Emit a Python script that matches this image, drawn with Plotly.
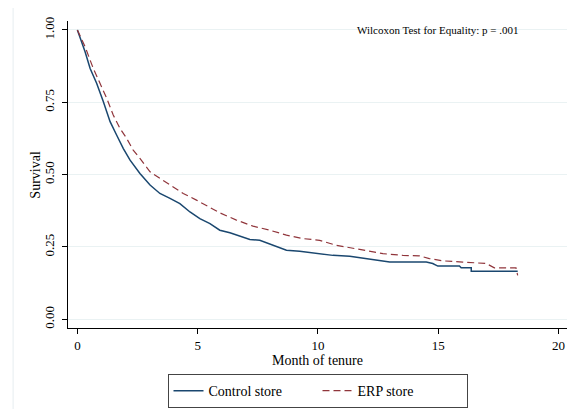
import plotly.graph_objects as go

# Kaplan-Meier survival estimates
ctrl_t = [0, 0.32, 0.53, 0.80, 1.08, 1.36, 1.63, 1.91, 2.19, 2.60, 3.02, 3.43, 3.85, 4.26,
          4.68, 5.09, 5.51, 5.92, 6.34, 6.75, 7.17, 7.58, 8.0, 8.41, 8.69, 9.24, 9.93,
          10.62, 11.32, 11.87, 12.14, 12.56, 12.98, 14.5, 14.77, 14.98, 15.88, 15.95,
          16.37, 16.37, 18.3]
ctrl_s = [1.0, 0.925, 0.867, 0.816, 0.752, 0.683, 0.637, 0.590, 0.550, 0.504, 0.464, 0.435,
          0.418, 0.400, 0.371, 0.348, 0.331, 0.308, 0.299, 0.287, 0.276, 0.273, 0.260,
          0.248, 0.239, 0.235, 0.227, 0.221, 0.218, 0.212, 0.208, 0.204, 0.198, 0.198,
          0.193, 0.184, 0.184, 0.178, 0.178, 0.166, 0.166]

erp_t = [0, 0.32, 0.66, 0.94, 1.22, 1.49, 1.77, 2.05, 2.32, 2.60, 3.02, 3.43, 3.85, 4.40,
         4.95, 5.44, 5.92, 6.61, 7.30, 8.0, 8.69, 9.38, 10.07, 10.76, 11.45, 12.15, 12.7,
         13.53, 14.22, 14.63, 15.19, 16.02, 16.85, 16.99, 17.33, 18.23, 18.3]
erp_s = [1.0, 0.942, 0.867, 0.816, 0.764, 0.706, 0.660, 0.625, 0.585, 0.556, 0.510, 0.487,
         0.464, 0.435, 0.412, 0.389, 0.368, 0.343, 0.322, 0.308, 0.291, 0.279, 0.273,
         0.256, 0.245, 0.235, 0.227, 0.221, 0.219, 0.210, 0.202, 0.198, 0.195, 0.193,
         0.178, 0.178, 0.152]

x_ticks = [0, 5, 10, 15, 20]
y_ticks = [0, 0.25, 0.5, 0.75, 1.0]
y_tick_labels = ["0.00", "0.25", "0.50", "0.75", "1.00"]

FONT = "Liberation Serif"
BLUE = "#1a476f"
RED = "#90353b"
GRID = "#eaf2f3"

fig = go.Figure()
fig.add_trace(go.Scatter(x=ctrl_t, y=ctrl_s, mode="lines", name="Control store",
                         line=dict(color=BLUE, width=1.5)))
fig.add_trace(go.Scatter(x=erp_t, y=erp_s, mode="lines", name="ERP store",
                         line=dict(color=RED, width=1.2, dash="7px,4px")))

fig.update_layout(
    width=568, height=401,
    margin=dict(l=60, r=9, t=13, b=81, autoexpand=False),
    paper_bgcolor="white", plot_bgcolor="white",
    font=dict(family=FONT, size=13, color="black"),
    showlegend=True,
    legend=dict(orientation="h", x=0.5, xanchor="center", y=-0.15, yanchor="top",
                bordercolor="#444444", borderwidth=1, font=dict(size=14, family=FONT),
                entrywidth=104, tracegroupgap=0),
    xaxis=dict(range=[-0.39, 20.35], tickvals=x_ticks, ticks="outside", ticklen=5,
               tickcolor="black", showline=True, linecolor="black", linewidth=1.3,
               showgrid=False, zeroline=False, tickfont=dict(size=13, family=FONT),
               automargin=False,
               title=dict(text="Month of tenure", font=dict(size=14, family=FONT), standoff=0)),
    yaxis=dict(range=[-0.03, 1.031], tickvals=y_ticks, ticktext=y_tick_labels,
               ticks="outside", ticklen=5, tickcolor="black", showline=True,
               linecolor="black", linewidth=1.3, showgrid=True, gridcolor=GRID,
               gridwidth=1, zeroline=False, tickangle=-90, ticklabelstandoff=3,
               tickfont=dict(size=13, family=FONT), automargin=False),
    annotations=[
        dict(text="Wilcoxon Test for Equality: p = .001", xref="paper",
             yref="y", x=0.742, y=1.0, xanchor="center", yanchor="middle",
             showarrow=False, font=dict(size=11, family=FONT)),
        dict(text="Survival", xref="paper", yref="y", x=-0.0641, y=0.5,
             xanchor="center", yanchor="middle", textangle=-90, showarrow=False,
             font=dict(size=14, family=FONT)),
    ],
    shapes=[dict(type="rect", xref="paper", yref="paper", x0=-0.110, x1=1.030,
                 y0=-0.35, y1=1.049, line=dict(color="#e6eef0", width=1),
                 layer="below")],
)

fig.write_html("out.html")
